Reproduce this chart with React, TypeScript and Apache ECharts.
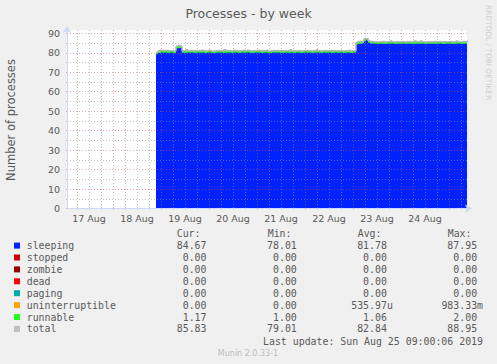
import React, { useEffect, useRef } from "react";
import * as echarts from "echarts";

// Hours are counted from 17 Aug 2019 00:00.
const X_MIN = 1;
const X_MAX = 201;
const Y_MAX = 91.7;
const START_HOUR = 45.5;

const dayLabels = ["17 Aug", "18 Aug", "19 Aug", "20 Aug", "21 Aug", "22 Aug", "23 Aug", "24 Aug"];
const dayLabelHours = [12, 36, 60, 84, 108, 132, 156, 180];
const midnightHours = [24, 48, 72, 96, 120, 144, 168, 192];
const minorHours = [6, 12, 18, 30, 36, 42, 54, 60, 66, 78, 84, 90, 102, 108, 114, 126, 132, 138, 150, 156, 162, 174, 180, 186, 198];
const yMajor = [0, 10, 20, 30, 40, 50, 60, 70, 80, 90];
const yMinor = [5, 15, 25, 35, 45, 55, 65, 75, 85];

// hourly samples starting at START_HOUR
const sleeping = [
  79.2, 79.9, 80.1, 80.0, 80.2, 79.9, 80.0, 80.1, 79.8, 80.0,
  82.3, 82.5, 82.4, 80.0, 79.9, 80.1, 80.0, 80.2, 80.0, 79.9,
  80.1, 80.0, 80.0, 80.3, 79.9, 80.0, 80.1, 80.0, 79.8, 80.0,
  80.1, 80.0, 80.2, 79.9, 80.0, 80.0, 80.1, 79.9, 80.0, 80.2,
  80.0, 79.9, 80.1, 80.0, 80.0, 80.3, 80.0, 79.9, 80.0, 80.1,
  80.0, 80.2, 79.9, 80.0, 80.1, 80.0, 79.8, 80.0, 80.1, 80.0,
  80.2, 80.0, 79.9, 80.0, 80.1, 80.0, 80.0, 80.2, 79.9, 80.0,
  80.1, 80.0, 79.9, 80.0, 80.2, 80.0, 80.1, 79.9, 80.0, 80.0,
  80.1, 80.0, 79.9, 80.2, 80.0, 80.0, 80.1, 79.9, 80.0, 80.1,
  80.0, 80.0, 80.2, 79.9, 80.0, 80.1, 80.0, 79.9, 80.0, 80.1,
  84.3, 84.6, 84.7, 85.0, 85.9, 86.4, 85.2, 84.8, 84.6, 84.7,
  84.5, 84.6, 84.7, 84.6, 84.5, 84.7, 84.6, 84.8, 84.6, 84.5,
  84.7, 84.6, 84.6, 84.8, 84.5, 84.6, 84.7, 84.6, 84.5, 84.6,
  84.7, 84.6, 84.8, 84.6, 84.5, 84.7, 84.6, 84.6, 84.7, 84.5,
  84.6, 84.8, 84.6, 84.5, 84.7, 84.6, 84.6, 84.7, 84.5, 84.6,
  84.8, 84.6, 84.5, 84.7, 84.6, 84.7, 84.7,
];
const runnable = [
  1.0, 1.0, 1.2, 1.0, 1.0, 1.3, 1.0, 1.0, 1.1, 1.0,
  1.0, 1.2, 1.0, 1.0, 1.0, 1.4, 1.0, 1.0, 1.0, 1.1,
  1.0, 1.0, 1.3, 1.0, 1.0, 1.0, 1.2, 1.0, 1.0, 1.0,
  1.1, 1.0, 1.0, 1.0, 1.5, 1.0, 1.0, 1.0, 1.2, 1.0,
  1.0, 1.0, 1.0, 1.3, 1.0, 1.0, 1.1, 1.0, 1.0, 1.0,
  1.2, 1.0, 1.0, 1.0, 1.0, 1.4, 1.0, 1.0, 1.0, 1.1,
  1.0, 1.0, 1.2, 1.0, 1.0, 1.0, 1.0, 1.3, 1.0, 1.0,
  1.0, 1.1, 1.0, 1.0, 1.0, 1.2, 1.0, 1.0, 1.0, 1.0,
  1.3, 1.0, 1.0, 1.0, 1.1, 1.0, 1.0, 1.2, 1.0, 1.0,
  1.0, 1.0, 1.1, 1.0, 1.0, 1.0, 1.4, 1.0, 1.0, 1.0,
  1.0, 1.2, 1.0, 1.0, 1.3, 1.0, 1.0, 1.0, 1.1, 1.0,
  1.0, 1.0, 1.0, 1.2, 1.0, 1.0, 1.0, 1.3, 1.0, 1.0,
  1.1, 1.0, 1.0, 1.0, 1.0, 1.2, 1.0, 1.0, 1.0, 1.4,
  1.0, 1.0, 1.2, 1.0, 1.0, 1.0, 1.1, 1.0, 1.0, 1.3,
  1.0, 1.0, 1.0, 1.2, 1.0, 1.0, 1.0, 1.1, 1.0, 1.0,
  1.2, 1.0, 1.0, 1.1, 1.0, 1.2, 1.2,
];

const legendNames = ["sleeping", "stopped", "zombie", "dead", "paging", "uninterruptible", "runnable", "total"];
const legendColors = ["#0022ff", "#cc0000", "#990000", "#ff0000", "#00aaaa", "#ffa500", "#22ff22", "#c0c0c0"];
const curVals = ["84.67", "0.00", "0.00", "0.00", "0.00", "0.00", "1.17", "85.83"];
const minVals = ["78.01", "0.00", "0.00", "0.00", "0.00", "0.00", "1.00", "79.01"];
const avgVals = ["81.78", "0.00", "0.00", "0.00", "0.00", "535.97u", "1.06", "82.84"];
const maxVals = ["87.95", "0.00", "0.00", "0.00", "0.00", "983.33m", "2.00", "88.95"];
const columnHeaders = ["Cur:", "Min:", "Avg:", "Max:"];

const TEXT = "#5a5a5a";
const SANS = '"DejaVu Sans", sans-serif';
const MONO = '"DejaVu Sans Mono", monospace';
const RED_DOT = "rgba(222,79,79,0.5)";
const GREY_DOT = "rgba(143,143,143,0.55)";
const AXIS_COL = "#cfd6f8";

export default function App() {
  const ref = useRef<HTMLDivElement>(null);
  useEffect(() => {
    if (!ref.current) return;
    const chart = echarts.init(ref.current, undefined, { renderer: "svg" });

    const hours = sleeping.map((_, i) => START_HOUR + i);
    const sleepData = hours.map((h, i) => [h, sleeping[i]]);
    // top of the (sleeping + runnable) stack; also the "total" line
    const stackTop = hours.map((h, i) => [h, +(sleeping[i] + runnable[i]).toFixed(2)]);

    const colHeaderX = [176.7, 267.7, 357.7, 447.7];
    const colRightX = [206.5, 296.8, 386.9, 477.1];
    const cols = [curVals, minVals, avgVals, maxVals];
    const rowY = (k: number) => 245.6 + 11.9 * k;
    const legendGraphics: any[] = [];
    columnHeaders.forEach((t, c) => {
      legendGraphics.push({
        type: "text", x: colHeaderX[c], y: 233.8,
        style: { text: t, fill: TEXT, fontSize: 9.9, fontFamily: MONO, textAlign: "left", textVerticalAlign: "middle" },
      });
    });
    legendNames.forEach((name, k) => {
      legendGraphics.push({ type: "rect", shape: { x: 14, y: rowY(k) - 3, width: 6, height: 6 }, style: { fill: legendColors[k] } });
      legendGraphics.push({
        type: "text", x: 26.7, y: rowY(k),
        style: { text: name, fill: TEXT, fontSize: 9.9, fontFamily: MONO, textAlign: "left", textVerticalAlign: "middle" },
      });
      cols.forEach((arr, c) => {
        const v = arr[k];
        const hasSuffix = /[a-zA-Z]$/.test(v);
        legendGraphics.push({
          type: "text", x: colRightX[c] + (hasSuffix ? 5.95 : 0), y: rowY(k),
          style: { text: v, fill: TEXT, fontSize: 9.9, fontFamily: MONO, textAlign: "right", textVerticalAlign: "middle" },
        });
      });
    });

    const option: any = {
      animation: false,
      backgroundColor: "#f0f0f0",
      grid: {
        left: 67, right: 30, top: 30, bottom: 155.5,
        show: true, backgroundColor: "#ffffff", borderWidth: 0,
        containLabel: false, outerBoundsMode: "none",
      },
      xAxis: [
        {
          type: "value", min: X_MIN, max: X_MAX, position: "bottom", z: 10,
          axisLine: { show: true, onZero: false, lineStyle: { color: AXIS_COL, width: 1 }, symbol: ["none", "arrow"], symbolSize: [6, 7], symbolOffset: [0, 5] },
          axisTick: { show: true, customValues: midnightHours, length: 3, lineStyle: { color: RED_DOT, type: [1, 2] } },
          axisLabel: {
            show: true, customValues: dayLabelHours, margin: 5, color: TEXT, fontSize: 9.5, fontFamily: SANS,
            formatter: (v: number) => dayLabels[dayLabelHours.indexOf(v)] ?? "",
          },
          splitLine: { show: true, lineStyle: { color: RED_DOT, width: 1, type: [1, 2] } },
        },
        {
          type: "value", min: X_MIN, max: X_MAX, position: "bottom", z: 9,
          axisLine: { show: false },
          axisTick: { show: true, customValues: minorHours, length: 3, lineStyle: { color: GREY_DOT, type: [1, 2] } },
          axisLabel: { show: false },
          splitLine: { show: true, lineStyle: { color: GREY_DOT, width: 1, type: [1, 2] } },
        },
      ],
      yAxis: [
        {
          type: "value", min: 0, max: Y_MAX, position: "left", z: 10,
          axisLine: { show: true, onZero: false, lineStyle: { color: AXIS_COL, width: 1 }, symbol: ["none", "arrow"], symbolSize: [6, 7], symbolOffset: [0, 4] },
          axisTick: { show: true, customValues: yMajor, length: 3, lineStyle: { color: RED_DOT, type: [1, 2] } },
          axisLabel: { show: true, customValues: yMajor, margin: 7, color: TEXT, fontSize: 9.5, fontFamily: SANS },
          splitLine: { show: true, lineStyle: { color: RED_DOT, width: 1, type: [1, 2] } },
        },
        {
          type: "value", min: 0, max: Y_MAX, position: "left", z: 9,
          axisLine: { show: false },
          axisTick: { show: true, customValues: yMinor, length: 3, lineStyle: { color: GREY_DOT, type: [1, 2] } },
          axisLabel: { show: false },
          splitLine: { show: true, lineStyle: { color: GREY_DOT, width: 1, type: [1, 2] } },
        },
      ],
      series: [
        {
          name: "runnable", type: "line", xAxisIndex: 0, yAxisIndex: 0, step: "end", z: 1,
          symbol: "none", data: stackTop, lineStyle: { width: 0 },
          areaStyle: { color: legendColors[6], opacity: 1, origin: "start" }, itemStyle: { color: legendColors[6] },
        },
        {
          name: "sleeping", type: "line", xAxisIndex: 0, yAxisIndex: 0, step: "end", z: 2,
          symbol: "none", data: sleepData, lineStyle: { width: 0 },
          areaStyle: { color: legendColors[0], opacity: 1, origin: "start" }, itemStyle: { color: legendColors[0] },
        },
        {
          name: "total", type: "line", xAxisIndex: 0, yAxisIndex: 0, step: "end", z: 3,
          symbol: "none", data: stackTop, lineStyle: { width: 1.5, color: "#b4b4b4" },
          itemStyle: { color: "#b4b4b4" },
        },
      ],
      graphic: [
        {
          type: "text", x: 248.5, y: 13.5,
          style: { text: "Processes - by week", fill: TEXT, fontSize: 12.5, fontFamily: SANS, textAlign: "center", textVerticalAlign: "middle" },
        },
        {
          type: "text", x: 11, y: 120, rotation: Math.PI / 2,
          style: { text: "Number of processes", fill: TEXT, fontSize: 11.5, fontFamily: SANS, textAlign: "center", textVerticalAlign: "middle" },
        },
        {
          type: "text", x: 488.5, y: 5, rotation: -Math.PI / 2,
          style: { text: "RRDTOOL / TOBI OETIKER", fill: "#cfcfcf", fontSize: 7.4, fontFamily: SANS, textAlign: "left", textVerticalAlign: "middle" },
        },
        ...legendGraphics,
        {
          type: "text", x: 483, y: 341.7,
          style: { text: "Last update: Sun Aug 25 09:00:06 2019", fill: TEXT, fontSize: 9.9, fontFamily: MONO, textAlign: "right", textVerticalAlign: "middle" },
        },
        {
          type: "text", x: 248, y: 353.3,
          style: { text: "Munin 2.0.33-1", fill: "#bcbcbc", fontSize: 8, fontFamily: SANS, textAlign: "center", textVerticalAlign: "middle" },
        },
      ],
    };
    chart.setOption(option);
    return () => chart.dispose();
  }, []);
  return <div ref={ref} style={{ position: "fixed", left: 0, top: 0, width: 497, height: 364 }} />;
}
